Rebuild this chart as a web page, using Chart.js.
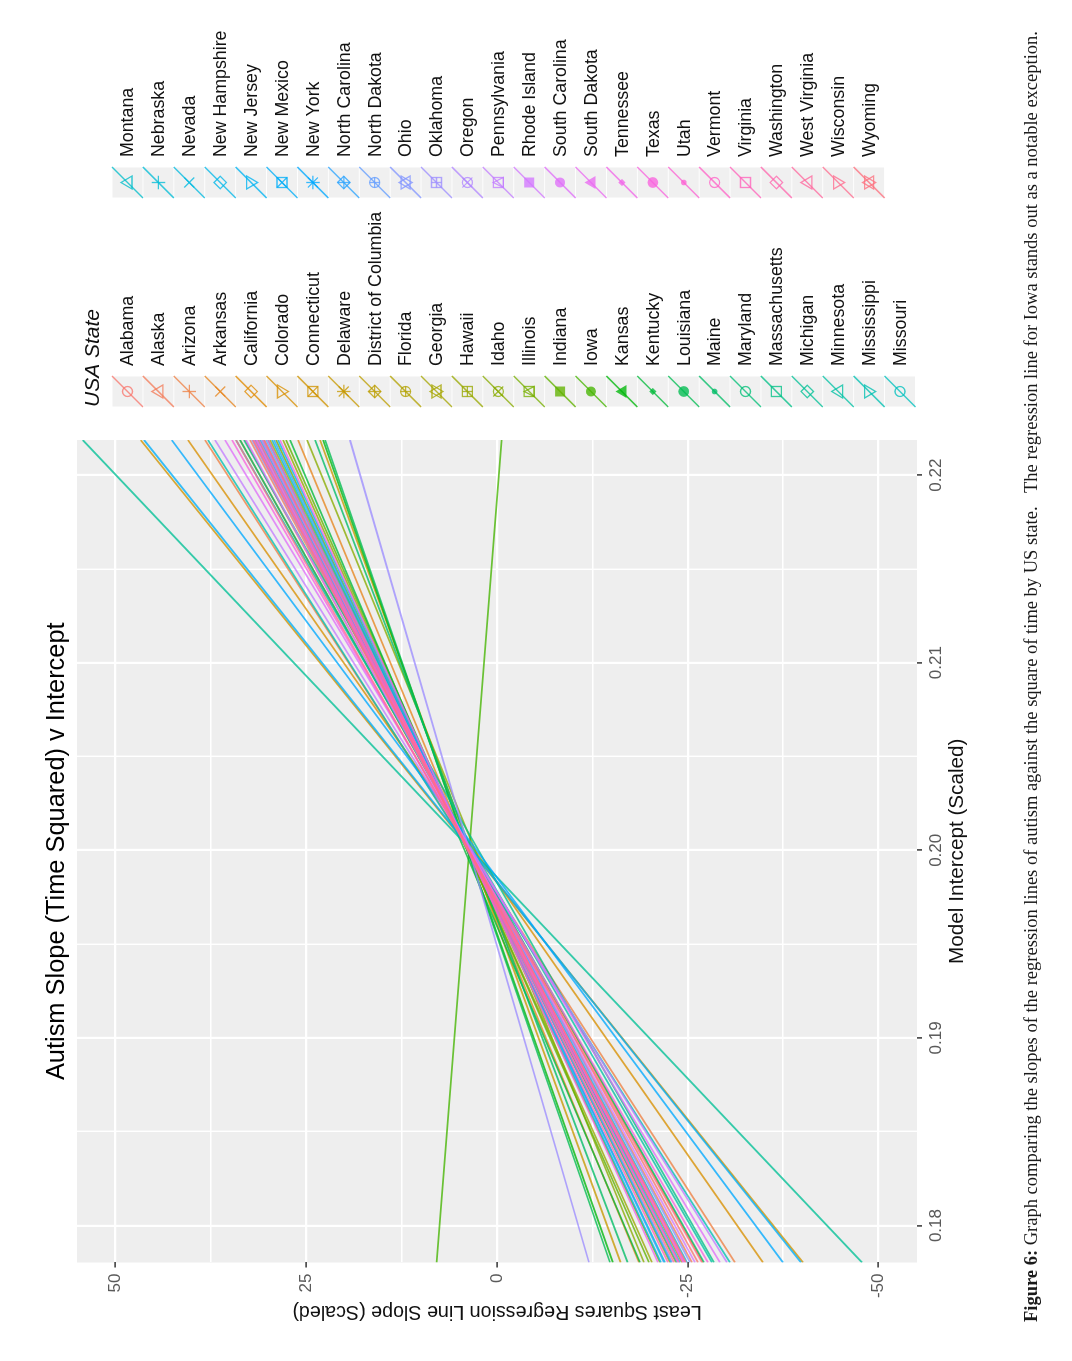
<!DOCTYPE html>
<html>
<head>
<meta charset="utf-8">
<title>Autism Slope</title>
<script src="https://cdn.jsdelivr.net/npm/chart.js@4"></script>
<style>
  html, body { margin: 0; padding: 0; background: #fff; overflow: hidden; }
  #page {
    position: absolute; left: 0; top: 0; width: 1361px; height: 1072px;
    transform-origin: top left; transform: translateY(1361px) rotate(-90deg);
  }
  #chart { position: absolute; left: 0; top: 0; }
  #caption {
    position: absolute; left: 39px; top: 1020.5px; white-space: pre;
    font: 18.5px "Liberation Serif", serif; color: #1a1a1a;
  }
</style>
</head>
<body>
<div id="page">
  <canvas id="chart" width="1361" height="1072"></canvas>
  <div id="caption"><b>Figure 6:</b> Graph comparing the slopes of the regression lines of autism against the square of time by US state.   The regression line for Iowa stands out as a notable exception.</div>
</div>
<script>
// ===== DATA =====
const states = [
  "Alabama", "Alaska", "Arizona", "Arkansas", "California", "Colorado", "Connecticut",
  "Delaware", "District of Columbia", "Florida", "Georgia", "Hawaii", "Idaho", "Illinois",
  "Indiana", "Iowa", "Kansas", "Kentucky", "Louisiana", "Maine", "Maryland", "Massachusetts",
  "Michigan", "Minnesota", "Mississippi", "Missouri", "Montana", "Nebraska", "Nevada",
  "New Hampshire", "New Jersey", "New Mexico", "New York", "North Carolina", "North Dakota",
  "Ohio", "Oklahoma", "Oregon", "Pennsylvania", "Rhode Island", "South Carolina",
  "South Dakota", "Tennessee", "Texas", "Utah", "Vermont", "Virginia", "Washington",
  "West Virginia", "Wisconsin", "Wyoming"
];

// value of each state's regression line at the two ends of the x axis
const slopeAtXMin = [
  -26.34, -25.56, -31.19, -18.61, -27.00, -34.86, -40.10,
  -16.21, -23.46, -22.67, -24.25, -20.31, -19.27, -21.36,
  -19.92, 7.90, -15.20, -18.74, -14.81, -17.13, -27.13, -28.44,
  -47.84, -28.18, -30.54, -23.59, -22.02, -24.90, -22.80,
  -21.49, -23.98, -39.84, -37.48, -21.89, -22.94,
  -25.29, -12.06, -24.51, -30.14, -25.95, -29.23,
  -23.72, -21.10, -27.65, -24.38, -24.64, -22.41, -23.85,
  -23.20, -26.87, -24.77
];
const slopeAtXMax = [
  33.03, 32.37, 38.27, 26.08, 33.68, 40.50, 46.70,
  23.20, 30.54, 29.75, 31.32, 28.05, 24.90, 28.96,
  27.65, -0.62, 22.80, 27.13, 22.54, 23.85, 33.68, 33.16,
  54.30, 34.21, 37.88, 30.80, 29.49, 31.72, 30.01,
  28.70, 31.06, 46.26, 42.63, 29.23, 30.27,
  32.11, 19.27, 31.45, 36.96, 32.90, 35.65,
  30.80, 28.44, 34.73, 31.59, 31.85, 30.01, 31.19,
  30.54, 34.21, 31.98
];

const xEnds = [0.17803, 0.22187];
const yEnds = [-55.05, 55.05];
const xMajorTicks = [0.18, 0.19, 0.20, 0.21, 0.22];
const xMinorTicks = [0.185, 0.195, 0.205, 0.215];
const yMajorTicks = [-50, -25, 0, 25, 50];
const yMinorTicks = [-37.5, -12.5, 12.5, 37.5];

// ===== COLOURS =====
// same idea as ggplot's default hue palette (hcl, c=100, l=65), a bit washed out like the scan
function hueColor(i, n) {
  const h = (15 + 360 * i / n) * Math.PI / 180;
  const L = 65, C = 100;
  const Y = Math.pow((L + 16) / 116, 3);
  const up = C * Math.cos(h) / (13 * L) + 0.19784;
  const vp = C * Math.sin(h) / (13 * L) + 0.46834;
  const X = 9 * Y * up / (4 * vp);
  const Z = -X / 3 - 5 * Y + 3 * Y / vp;
  const lin = [
    3.2406 * X - 1.5372 * Y - 0.4986 * Z,
    -0.9689 * X + 1.8758 * Y + 0.0415 * Z,
    0.0557 * X - 0.2040 * Y + 1.0570 * Z
  ];
  const rgb = lin.map(c => {
    c = Math.max(0, Math.min(1, c));
    c = c <= 0.0031308 ? 12.92 * c : 1.055 * Math.pow(c, 1 / 2.4) - 0.055;
    return Math.round(c * 255);
  });
  return "rgba(" + rgb.join(",") + ",0.78)";
}
const stateColors = states.map((s, i) => hueColor(i, states.length));

// ===== LEGEND KEYS =====
// R's pch numbers, recycled through the states
function stateShape(i) {
  if (i === 50) return 11;
  return (i % 25) + 1;
}

function drawShape(ctx, pch, x, y, color) {
  const r = 5;
  const path = pts => {
    ctx.beginPath();
    pts.forEach((p, k) => k ? ctx.lineTo(x + p[0], y + p[1]) : ctx.moveTo(x + p[0], y + p[1]));
    ctx.closePath();
  };
  const circle = rad => { ctx.beginPath(); ctx.arc(x, y, rad, 0, Math.PI * 2); };
  const up = [[0, -r * 1.3], [r * 1.3, r * 0.9], [-r * 1.3, r * 0.9]];
  const down = [[0, r * 1.3], [r * 1.3, -r * 0.9], [-r * 1.3, -r * 0.9]];
  const sq = [[-r, -r], [r, -r], [r, r], [-r, r]];
  const dia = [[0, -r * 1.25], [r * 1.25, 0], [0, r * 1.25], [-r * 1.25, 0]];
  const plus = k => {
    ctx.beginPath();
    ctx.moveTo(x - k, y); ctx.lineTo(x + k, y);
    ctx.moveTo(x, y - k); ctx.lineTo(x, y + k);
    ctx.stroke();
  };
  const cross = k => {
    ctx.beginPath();
    ctx.moveTo(x - k, y - k); ctx.lineTo(x + k, y + k);
    ctx.moveTo(x - k, y + k); ctx.lineTo(x + k, y - k);
    ctx.stroke();
  };

  ctx.save();
  ctx.strokeStyle = color;
  ctx.fillStyle = color;
  ctx.lineWidth = 1.3;
  switch (pch) {
    case 1: case 21: circle(r); ctx.stroke(); break;
    case 2: case 24: path(up); ctx.stroke(); break;
    case 3: plus(r * 1.35); break;
    case 4: cross(r); break;
    case 5: case 23: path(dia); ctx.stroke(); break;
    case 6: case 25: path(down); ctx.stroke(); break;
    case 7: path(sq); ctx.stroke(); cross(r); break;
    case 8: plus(r * 1.35); cross(r); break;
    case 9: path(dia); ctx.stroke(); plus(r * 1.25); break;
    case 10: circle(r); ctx.stroke(); plus(r); break;
    case 11: path(up); ctx.stroke(); path(down); ctx.stroke(); break;
    case 12: path(sq); ctx.stroke(); plus(r); break;
    case 13: circle(r); ctx.stroke(); cross(r); break;
    case 14: path(sq); ctx.stroke(); path([[0, -r], [r, r], [-r, r]]); ctx.stroke(); break;
    case 15: path(sq); ctx.fill(); break;
    case 16: circle(r); ctx.fill(); break;
    case 17: path(up); ctx.fill(); break;
    case 18: path([[0, -3.6], [3.6, 0], [0, 3.6], [-3.6, 0]]); ctx.fill(); break;
    case 19: circle(r + 0.4); ctx.fill(); break;
    case 20: circle(2.8); ctx.fill(); break;
    case 22: path(sq); ctx.stroke(); break;
  }
  ctx.restore();
}

const legendPlugin = {
  id: "stateLegend",
  afterDraw(chart) {
    const ctx = chart.ctx;
    const perColumn = 25;
    const columnX = [954, 1163];
    const firstRow = 127.5, rowStep = 30.9, keySize = 31;

    ctx.save();
    ctx.fillStyle = "#111";
    ctx.font = 'italic 21px "Liberation Sans", sans-serif';
    ctx.textAlign = "left";
    ctx.textBaseline = "middle";
    ctx.fillText("USA State", 954, 93);

    states.forEach((name, i) => {
      const col = i <= perColumn ? 0 : 1;
      const row = col ? i - perColumn - 1 : i;
      const kx = columnX[col];
      const cy = firstRow + row * rowStep;

      ctx.fillStyle = "#f0f0f0";
      ctx.fillRect(kx + 0.5, cy - keySize / 2 + 0.5, keySize - 1, keySize - 1);

      ctx.strokeStyle = stateColors[i];
      ctx.lineWidth = 1.5;
      ctx.beginPath();
      ctx.moveTo(kx, cy + keySize / 2);
      ctx.lineTo(kx + keySize, cy - keySize / 2);
      ctx.stroke();

      drawShape(ctx, stateShape(i), kx + keySize / 2, cy, stateColors[i]);

      ctx.fillStyle = "#111";
      ctx.font = '17.8px "Liberation Sans", sans-serif';
      ctx.fillText(name, kx + keySize + 10, cy + 1);
    });
    ctx.restore();
  }
};

const panelPlugin = {
  id: "panelBackground",
  beforeDraw(chart) {
    const a = chart.chartArea;
    chart.ctx.save();
    chart.ctx.fillStyle = "#eeeeee";
    chart.ctx.fillRect(a.left, a.top, a.width, a.height);
    chart.ctx.restore();
  }
};

// ===== CHART =====
function scaleOptions(majors, minors, ends, label, decimals, fit, titleFont, tickPad) {
  return {
    type: "linear",
    min: ends[0],
    max: ends[1],
    afterBuildTicks: s => { s.ticks = minors.concat(majors).map(v => ({ value: v })); },
    afterFit: fit,
    border: { display: false },
    grid: {
      color: "#ffffff",
      lineWidth: c => majors.includes(c.tick.value) ? 2.2 : 1.4,
      tickColor: c => majors.includes(c.tick.value) ? "#333333" : "rgba(0,0,0,0)",
      tickLength: 5,
      tickWidth: 1.5
    },
    ticks: {
      autoSkip: false,
      maxRotation: 0,
      minRotation: 0,
      padding: tickPad,
      color: "#5a5a5a",
      font: { family: "Liberation Sans", size: 17 },
      callback: v => majors.includes(v) ? v.toFixed(decimals) : ""
    },
    title: {
      display: true,
      text: label,
      color: "#111",
      padding: 0,
      font: { family: "Liberation Sans", size: titleFont }
    }
  };
}

new Chart(document.getElementById("chart"), {
  type: "scatter",
  data: {
    datasets: states.map((name, i) => ({
      label: name,
      data: [
        { x: xEnds[0], y: slopeAtXMin[i] },
        { x: xEnds[1], y: slopeAtXMax[i] }
      ],
      showLine: true,
      pointRadius: 0,
      borderWidth: 1.8,
      borderColor: stateColors[i],
      order: states.length - i
    }))
  },
  options: {
    responsive: false,
    animation: false,
    layout: { padding: { left: 38, right: 440, top: 0, bottom: 102 } },
    plugins: {
      legend: { display: false },
      tooltip: { enabled: false },
      title: {
        display: true,
        fullSize: false,
        text: "Autism Slope (Time Squared) v Intercept",
        color: "#000",
        font: { family: "Liberation Sans", size: 25.4, weight: "normal" },
        padding: { top: 42, bottom: 4.5 }
      }
    },
    scales: {
      x: scaleOptions(xMajorTicks, xMinorTicks, xEnds, "Model Intercept (Scaled)", 2, s => { s.height = 53; }, 20.7, 4),
      y: scaleOptions(yMajorTicks, yMinorTicks, yEnds, "Least Squares Regression Line Slope (Scaled)", 0, s => { s.width = 60.5; }, 19.7, 6)
    }
  },
  plugins: [panelPlugin, legendPlugin]
});
</script>
</body>
</html>
